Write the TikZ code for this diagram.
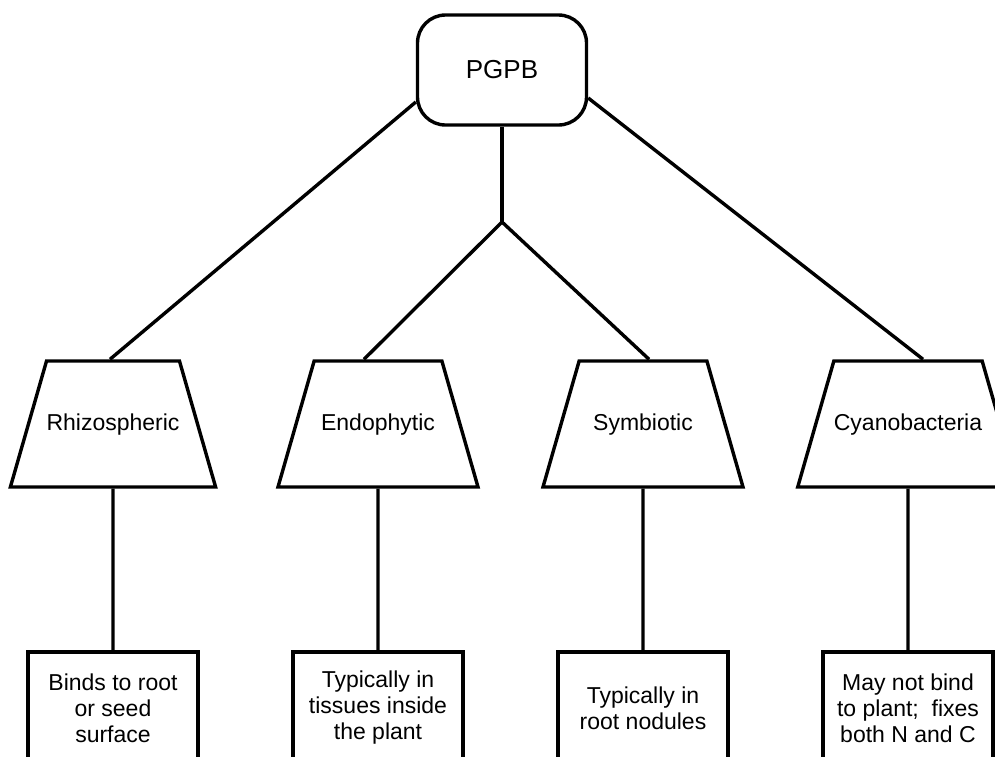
\documentclass[tikz,border=0pt]{standalone}
\usepackage{fontspec}
\setmainfont{Liberation Sans}
\usetikzlibrary{positioning,shapes.geometric}

\tikzset{
  group/.style={draw, trapezium, trapezium left angle=74, trapezium right angle=74, trapezium stretches body, minimum width=200pt, text height=17pt, text depth=5pt, inner ysep=52pt, inner xsep=0pt, font=\fontsize{23}{26}\selectfont},
  note/.style={draw, rectangle, minimum width=170pt, minimum height=112pt, inner sep=0pt, align=center, font=\fontsize{23}{26}\selectfont}
}

\begin{document}
\begin{tikzpicture}[x=1pt, y=1pt, node distance=265pt, line width=3.4pt]
        \useasboundingbox (0,0) rectangle (995,-756);
        \clip (0,0) rectangle (995,-756);
        \node[draw, rounded corners=28pt, minimum width=169pt, minimum height=110pt, font=\fontsize{26}{30}\selectfont] (Pgpb) at (502,-70) {PGPB};
        \node[group] (Rhizo) at (113,-424) {Rhizospheric};
        \node[group] (Endo) [right of=Rhizo] {Endophytic};
        \node[group] (Symb) [right of=Endo] {Symbiotic};
        \node[group] (Cyano) [right of=Symb] {Cyanobacteria};
        \coordinate (Fork) at (502,-222);

        \node[note] (RhizoNote) [below of=Rhizo, node distance=284pt] {Binds to root\\ or seed\\ surface};
        \node[note] (EndoNote) [below of=Endo, node distance=284pt] {Typically in\\ tissues inside\\ the plant};
        \node[note] (SymbNote) [below of=Symb, node distance=284pt] {Typically in\\ root nodules};
        \node[note] (CyanoNote) [below of=Cyano, node distance=284pt] {May not bind\\ to plant;~ fixes\\ both N and C};

        \draw ([yshift=-32pt]Pgpb.west) -- ([xshift=-3pt]Rhizo.north);
        \draw ([yshift=-28pt]Pgpb.east) -- ([xshift=15pt]Cyano.north);
        \draw (Pgpb.south) -- (Fork);
        \draw (Fork) -- ([xshift=-14pt]Endo.north);
        \draw (Fork) -- ([xshift=6pt]Symb.north);

        \draw (Rhizo.south) -- (RhizoNote.north);
        \draw (Endo.south) -- (EndoNote.north);
        \draw (Symb.south) -- (SymbNote.north);
        \draw (Cyano.south) -- (CyanoNote.north);
    \end{tikzpicture}
\end{document}
